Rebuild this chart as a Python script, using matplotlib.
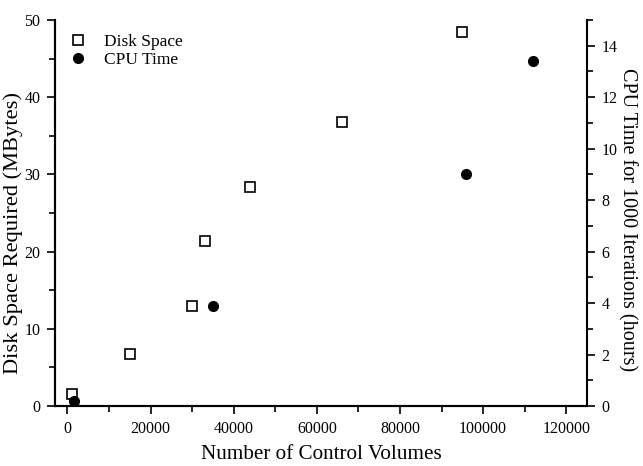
import matplotlib.pyplot as plt
from matplotlib.ticker import MultipleLocator

plt.rcParams['font.family'] = ['Liberation Serif', 'DejaVu Serif']

# Disk space vs number of control volumes
disk_cv = [1000, 15000, 30000, 33000, 44000, 66000, 95000]
disk_mb = [1.6, 6.7, 12.9, 21.4, 28.4, 36.8, 48.4]

# CPU time vs number of control volumes
cpu_cv = [1500, 35000, 96000, 112000]
cpu_hours = [0.2, 3.9, 9.0, 13.4]

fig = plt.figure(figsize=(6.43, 4.66), dpi=100)
ax = fig.add_axes([0.0855, 0.1288, 0.8274, 0.8282])
ax2 = ax.twinx()

h1, = ax.plot(disk_cv, disk_mb, linestyle='none', marker='s', markersize=6.5,
              markerfacecolor='white', markeredgecolor='black',
              markeredgewidth=1.2, label='Disk Space')
h2, = ax2.plot(cpu_cv, cpu_hours, linestyle='none', marker='o',
               markersize=7, color='black', label='CPU Time')

ax.set_xlim(-3000, 125000)
ax.set_ylim(0, 50)
ax2.set_ylim(0, 15)

ax.xaxis.set_major_locator(MultipleLocator(20000))
ax.xaxis.set_minor_locator(MultipleLocator(10000))
ax.yaxis.set_major_locator(MultipleLocator(10))
ax.yaxis.set_minor_locator(MultipleLocator(5))
ax2.yaxis.set_major_locator(MultipleLocator(2))
ax2.yaxis.set_minor_locator(MultipleLocator(1))

for a in (ax, ax2):
    a.spines['top'].set_visible(False)
    for s in a.spines.values():
        s.set_linewidth(1.5)
    a.tick_params(which='major', length=6, width=1.2, labelsize=11.5, pad=4.5)
    a.tick_params(which='minor', length=4, width=1.2)
ax.spines['right'].set_visible(False)

ax.set_xlabel('Number of Control Volumes', fontsize=15.2, labelpad=6)
ax.set_ylabel('Disk Space Required (MBytes)', fontsize=16.2, labelpad=1,
              y=0.448)
ax2.set_ylabel('CPU Time for 1000 Iterations (hours)', fontsize=14.5,
               rotation=270, labelpad=14, y=0.482)

ax.legend(handles=[h1, h2], loc='upper left', frameon=False, fontsize=12.5,
          bbox_to_anchor=(0.0, 1.0), handletextpad=1.0, labelspacing=0.12,
          handlelength=1.0, borderpad=0.3)

fig.savefig('out.png', dpi=100)
